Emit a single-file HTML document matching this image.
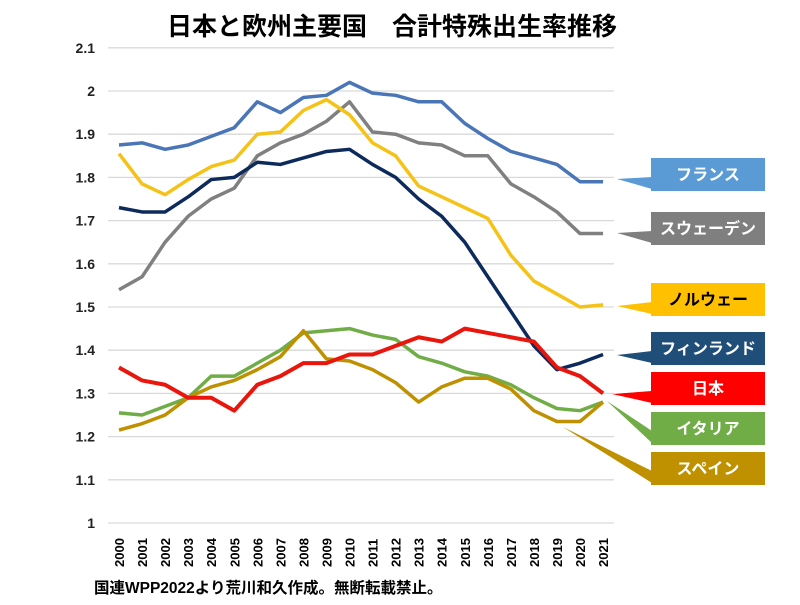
<!DOCTYPE html>
<html><head><meta charset="utf-8">
<style>
html,body{margin:0;padding:0;background:#fff;}
body{width:800px;height:600px;overflow:hidden;font-family:"Liberation Sans","Noto Sans CJK JP",sans-serif;}
</style></head>
<body>
<svg id="chart" width="800" height="600" xmlns="http://www.w3.org/2000/svg" style="font-family:'Liberation Sans','Noto Sans CJK JP',sans-serif">
<text x="392" y="35" text-anchor="middle" font-size="25" font-weight="bold" fill="#000">日本と欧州主要国　合計特殊出生率推移</text>
<g id="grid"></g><g id="yticks"></g><g id="xticks"></g><g id="callouts"></g><g id="series"></g>
<text x="94" y="593" font-size="15.5" font-weight="bold" fill="#000">国連WPP2022より荒川和久作成。無断転載禁止。</text>
</svg>
<script>
const years = [2000,2001,2002,2003,2004,2005,2006,2007,2008,2009,2010,2011,2012,2013,2014,2015,2016,2017,2018,2019,2020,2021];
const yTicks = [1,1.1,1.2,1.3,1.4,1.5,1.6,1.7,1.8,1.9,2,2.1];
const france = [1.875,1.88,1.865,1.875,1.895,1.915,1.975,1.95,1.985,1.99,2.02,1.995,1.99,1.975,1.975,1.925,1.89,1.86,1.845,1.83,1.79,1.79];
const sweden = [1.54,1.57,1.65,1.71,1.75,1.775,1.85,1.88,1.90,1.93,1.975,1.905,1.9,1.88,1.875,1.85,1.85,1.785,1.755,1.72,1.67,1.67];
const norway = [1.855,1.785,1.76,1.795,1.825,1.84,1.9,1.905,1.955,1.98,1.945,1.88,1.85,1.78,1.755,1.73,1.705,1.62,1.56,1.53,1.5,1.505];
const finland = [1.73,1.72,1.72,1.755,1.795,1.8,1.835,1.83,1.845,1.86,1.865,1.83,1.8,1.75,1.71,1.65,1.57,1.49,1.41,1.355,1.37,1.39];
const japan = [1.36,1.33,1.32,1.29,1.29,1.26,1.32,1.34,1.37,1.37,1.39,1.39,1.41,1.43,1.42,1.45,1.44,1.43,1.42,1.36,1.34,1.30];
const italy = [1.255,1.25,1.27,1.29,1.34,1.34,1.37,1.40,1.44,1.445,1.45,1.435,1.425,1.385,1.37,1.35,1.34,1.32,1.29,1.265,1.26,1.28];
const spain = [1.215,1.23,1.25,1.29,1.315,1.33,1.355,1.385,1.445,1.38,1.375,1.355,1.325,1.28,1.315,1.335,1.335,1.31,1.26,1.235,1.235,1.28];
const names = ["フランス","スウェーデン","ノルウェー","フィンランド","日本","イタリア","スペイン"];
const NS="http://www.w3.org/2000/svg";
const x0=119, xStep=23.05, yBase=523, yPx=432;
function X(i){return x0+i*xStep;}
function Y(v){return yBase-(v-1)*yPx;}
function mk(tag,attrs,parent){const e=document.createElementNS(NS,tag);for(const k in attrs)e.setAttribute(k,attrs[k]);parent.appendChild(e);return e;}
const grid=document.getElementById('grid'), yt=document.getElementById('yticks'), xt=document.getElementById('xticks');
yTicks.forEach(v=>{
  const l=mk('line',{x1:108,x2:614,y1:Y(v),y2:Y(v),stroke:'#d9d9d9','stroke-width':1.3},grid);
  
  
  const t=mk('text',{x:95,y:Y(v)+5,'text-anchor':'end','font-size':14,'font-weight':'bold',fill:'#222'},yt);
  t.textContent=String(v);
  
  
});
years.forEach((yr,i)=>{
  const t=mk('text',{transform:`translate(${X(i)+5},567) rotate(-90)`,'font-size':13,'font-weight':'bold',fill:'#000'},xt);
  t.textContent=String(yr);
  
  
});
const cfg=[
 {d:france,c:'#4a76b8',bc:'#5b9bd5',tc:'#fff',box:158,w:3.5},
 {d:sweden,c:'#808080',bc:'#7f7f7f',tc:'#fff',box:212,w:3.5},
 {d:norway,c:'#f5c218',bc:'#ffc000',tc:'#000',box:283,w:3.5},
 {d:finland,c:'#0d2a5c',bc:'#1f4e79',tc:'#fff',box:332,w:3.5},
 {d:italy,c:'#70ad47',bc:'#70ad47',tc:'#fff',box:412,w:3.5},
 {d:spain,c:'#bf9000',bc:'#bf9000',tc:'#fff',box:452,w:3.5},
 {d:japan,c:'#e8160c',bc:'#ff0000',tc:'#fff',box:372,w:4}
];
const nameIdx=[0,1,2,3,5,6,4];
// callout wedge tips (layout, not data)
const ends=[[617,179],[617,233],[617,306],[617,355],[607,401],[563,427],[612,394]];
const co=document.getElementById('callouts'), sg=document.getElementById('series');
cfg.forEach((s,k)=>{
  const b=s.box, tip=ends[k];
  const w=mk('polygon',{points:`${tip[0]},${tip[1]} 652,${b+19} 652,${b+31}`,fill:s.bc},co);
  
  
  const r=mk('rect',{x:651,y:b,width:114,height:33,fill:s.bc},co);
  
  
  const t=mk('text',{x:708,y:b+22,'text-anchor':'middle','font-size':16,'font-weight':'bold',fill:s.tc},co);
  t.textContent=names[nameIdx[k]];
  
  
  const p=mk('polyline',{points:s.d.map((v,i)=>X(i)+','+Y(v)).join(' '),fill:'none',stroke:s.c,'stroke-width':s.w,'stroke-linejoin':'round'},sg);
  
  
});
</script>
</body></html>
